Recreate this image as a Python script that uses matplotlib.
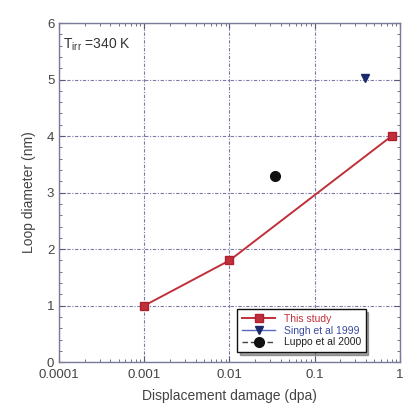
import matplotlib
matplotlib.use("Agg")
import matplotlib.pyplot as plt
from matplotlib.ticker import LogLocator, MultipleLocator, FixedLocator, NullFormatter

plt.rcParams['font.family'] = ['Liberation Sans', 'DejaVu Sans']

study_x = [0.001, 0.01, 0.8]
study_y = [1.0, 1.8, 4.0]
singh_x = [0.39]
singh_y = [5.02]
luppo_x = [0.034]
luppo_y = [3.3]
xticks = [0.0001, 0.001, 0.01, 0.1, 1]
xticklabels = ['0.0001', '0.001', '0.01', '0.1', '1']

fig = plt.figure(figsize=(4.08, 4.12), dpi=100)
ax = fig.add_axes([0.145, 0.121, 0.835, 0.823])

ax.plot(study_x, study_y, color='#c0303a', lw=1.4, marker='s', ms=6,
        mfc='#c0303a', mec='#b02030', label='This study', zorder=3)
ax.plot(singh_x, singh_y, color='#5a6ac0', lw=1.0, marker='v', ms=6,
        mfc='#1a2a6a', mec='#1a2a6a', label='Singh et al 1999', zorder=3)
ax.plot(luppo_x, luppo_y, color='#444444', lw=1.0, linestyle=(0, (4, 2)), marker='o', ms=7,
        mfc='#111111', mec='#111111', label='Luppo et al 2000', zorder=3)

ax.set_xscale('log')
ax.set_xlim(0.0001, 1)
ax.set_ylim(0, 6)
ax.xaxis.set_major_locator(FixedLocator(xticks))
ax.set_xticklabels(xticklabels)
ax.xaxis.set_minor_locator(LogLocator(base=10, subs=range(2, 10)))
ax.xaxis.set_minor_formatter(NullFormatter())
ax.yaxis.set_major_locator(MultipleLocator(1))
ax.yaxis.set_minor_locator(MultipleLocator(0.2))

grid_col = '#7a7aa8'
ax.grid(True, which='major', color=grid_col, linestyle=(0, (3, 1.5, 1, 1.5)), lw=0.8)
for s in ax.spines.values():
    s.set_color('#7a7a9a')
    s.set_linewidth(1.0)
ax.tick_params(which='both', direction='in', top=True, right=True, colors='#5a5a7a',
               labelcolor='#444444', labelsize=9.5)
ax.tick_params(axis='x', which='major', pad=5)
ax.tick_params(which='major', length=4)
ax.tick_params(which='minor', length=2)

ax.set_xlabel('Displacement damage (dpa)', fontsize=10, color='#444444', labelpad=6)
ax.set_ylabel('Loop diameter (nm)', fontsize=10, color='#444444', labelpad=8)

ax.text(0.000112, 5.62, r'T$_{\mathregular{irr}}$ =340 K', fontsize=10, color='#333333',
        va='center', ha='left')

leg = ax.legend(loc='lower right', bbox_to_anchor=(0.915, 0.015), fontsize=7.5,
                frameon=True, fancybox=False, shadow=True, edgecolor='#111111',
                handlelength=3.2, borderpad=0.45, labelspacing=0.15)
leg.get_frame().set_linewidth(1.0)
cols = ['#c0303a', '#3a4aa0', '#222222']
for t, c in zip(leg.get_texts(), cols):
    t.set_color(c)

fig.savefig('out.png', dpi=100)
